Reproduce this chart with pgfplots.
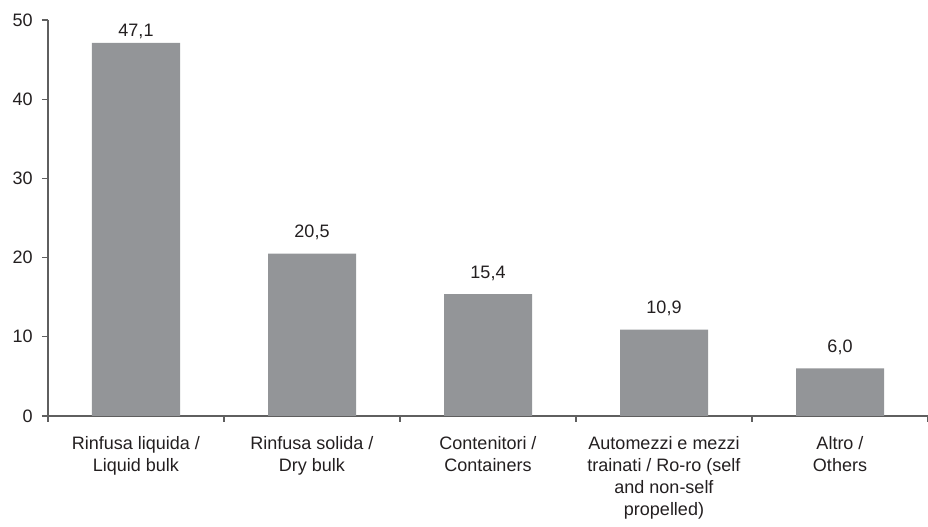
\documentclass[border=0pt]{standalone}
\usepackage{pgfplots}
\pgfplotsset{compat=1.18}
\usepackage{fontspec}
\setmainfont{Liberation Sans}

\definecolor{barfill}{RGB}{147,149,152}
\definecolor{axisgray}{RGB}{95,95,95}
\definecolor{txt}{RGB}{35,31,32}

% values in percent; dy = gap of the value label above the bar (pt)
\pgfplotstableread{
x y dy
0 47.1 4.5
1 20.5 12
2 15.4 12
3 10.9 12
4 6.0 12
}\cargo

\begin{document}
\begin{tikzpicture}
\begin{axis}[
    scale only axis, width=660pt, height=297pt,
    xmin=-0.5, xmax=4.5, ymin=0, ymax=50,
    axis lines*=left,
    axis line style={axisgray, line width=0.8pt},
    tick style={axisgray, line width=0.8pt},
    tick align=outside,
    major tick length=4.5pt,
    ytick={0,10,...,50},
    xtick={-0.5,0.5,...,4.5},
    xticklabels={},
    extra x ticks={0,1,2,3,4},
    extra x tick labels={
        Rinfusa liquida /\\Liquid bulk,
        Rinfusa solida /\\Dry bulk,
        Contenitori /\\Containers,
        Automezzi e mezzi\\trainati / Ro-ro (self\\and non-self\\propelled),
        Altro /\\Others},
    extra x tick style={major tick length=0pt},
    every tick label/.append style={font=\fontsize{13.5}{16.5}\selectfont, text=txt},
    xticklabel style={align=center, anchor=north, inner sep=0pt, yshift=-15pt},
    yticklabel style={anchor=east, inner sep=0pt},
    yticklabel shift=6.75pt,
    /pgf/number format/assume math mode=true,
    ybar, bar width=0.5,
    nodes near coords,
    nodes near coords style={/pgf/number format/fixed, /pgf/number format/fixed zerofill,
        /pgf/number format/precision=1, /pgf/number format/use comma},
    visualization depends on={\thisrow{dy} \as \dy},
    every node near coord/.append style={anchor=base, yshift=\dy pt, inner sep=0pt,
        font=\fontsize{13.5}{16.5}\selectfont, text=txt},
    clip=false,
]
\addplot[draw=none, fill=barfill] table[x=x, y=y] {\cargo};
\end{axis}
\pgfresetboundingbox
\path ([xshift=-36pt, yshift=-83.25pt]current axis.south west) rectangle ([yshift=15pt]current axis.north east);
\end{tikzpicture}
\end{document}
